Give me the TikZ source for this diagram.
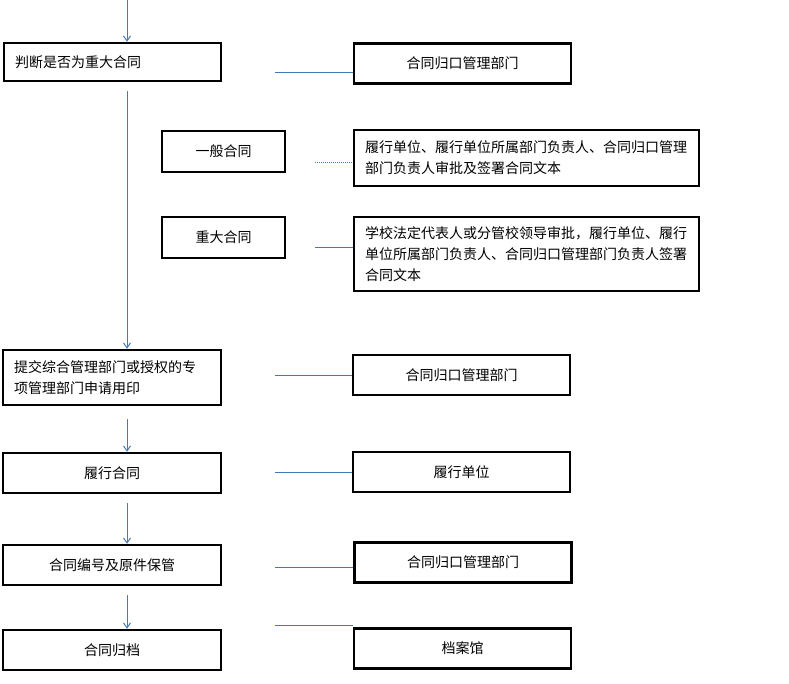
\documentclass[tikz,border=0pt]{standalone}
\usepackage{fontspec}
\newfontfamily\cjk{Noto Sans CJK SC}
\usetikzlibrary{arrows.meta}
\definecolor{lineblue}{HTML}{4579B8}
\begin{document}
\begin{tikzpicture}[x=1pt, y=-1pt, >={Straight Barb[length=5pt,width=7pt]},
  box/.style={draw, line width=2.4pt, inner sep=0pt, font=\cjk\fontsize{14}{21}\selectfont},
  widebox/.style={box, minimum width=217pt, minimum height=40pt},
  leftbox/.style={box, align=left, inner xsep=11pt},
  link/.style={lineblue, line width=1pt}]
\useasboundingbox (0,0) rectangle (789,684);
% left column
\node[leftbox, text width=195pt, minimum height=38pt] (judge) at (112.5,62) {判断是否为重大合同};
\node[box, minimum width=123pt, minimum height=41pt] (general) at (223.5,151.5) {一般合同};
\node[box, minimum width=123pt, minimum height=41pt] (major) at (223.5,237.5) {重大合同};
\node[leftbox, text width=196pt, minimum height=55pt] (submit) at (112,377.5) {提交综合管理部门或授权的专\\项管理部门申请用印};
\foreach \name/\y/\txt in {fulfil/473/履行合同, number/565/合同编号及原件保管, archive/650/合同归档}
{
    \node[widebox, minimum width=218pt] (\name) at (112,\y) {\txt};
}
% right column
\node[leftbox, text width=323pt, minimum height=56pt] (r2) at (526.5,158) {履行单位、履行单位所属部门负责人、合同归口管理\\部门负责人审批及签署合同文本};
\node[leftbox, text width=323pt, minimum height=74pt] (r3) at (526.5,254) {学校法定代表人或分管校领导审批，履行单位、履行\\单位所属部门负责人、合同归口管理部门负责人签署\\合同文本};
\foreach \name/\x/\y/\txt in {r1/462.5/63.5/合同归口管理部门, r4/461.5/375/合同归口管理部门, r5/461.5/472/履行单位, r6/463/562.5/合同归口管理部门, r7/462.5/648.5/档案馆}
{
    \node[widebox] (\name) at (\x,\y) {\txt};
}
% flow arrows
\coordinate (s0) at (127,0);
\coordinate (s1) at (127,91);
\coordinate (s2) at (127,419);
\coordinate (s3) at (127,503);
\coordinate (s4) at (127,595);
\foreach \from/\to in {s0/judge, s1/submit, s2/fulfil, s3/number, s4/archive}
{
    \draw[link,->] (\from) -- (\from |- \to.north);
}
% side links
\coordinate (h1) at (275,73);
\coordinate (h2) at (315,163);
\coordinate (h3) at (315,248);
\coordinate (h4) at (275,375);
\coordinate (h5) at (275,472);
\coordinate (h6) at (275,567);
\coordinate (h7) at (275,625);
\draw[link, densely dotted] (h2) -- (h2 -| r2.west);
\foreach \from/\to in {h1/r1, h3/r3, h4/r4, h5/r5, h6/r6, h7/r7}
{
    \draw[link] (\from) -- (\from -| \to.west);
}
\end{tikzpicture}
\end{document}
